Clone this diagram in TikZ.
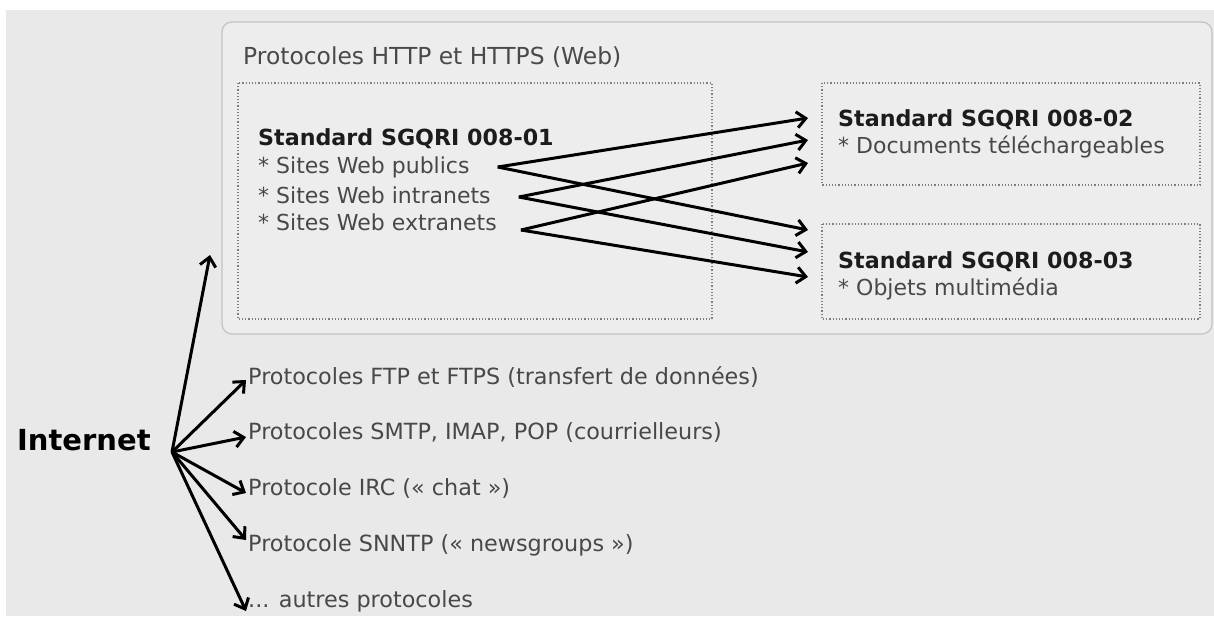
\documentclass[tikz,border=0pt]{standalone}
\usepackage{fontspec}
\setmainfont{DejaVu Sans}
\usetikzlibrary{arrows.meta}
\definecolor{fond}{RGB}{233,233,233}
\definecolor{cadrefond}{RGB}{237,237,237}
\definecolor{cadretrait}{RGB}{195,195,195}
\definecolor{pointille}{RGB}{125,125,125}
\definecolor{texte}{RGB}{72,72,72}
\definecolor{titre}{RGB}{28,28,28}

\tikzset{
    fleche/.style={line width=3pt, -{Straight Barb[length=9pt,width=16pt]}, black},
    ligne/.style={anchor=west, inner sep=2pt, text=texte, font=\fontsize{22}{27}\selectfont},
    protocole/.style={ligne, font=\fontsize{22.3}{27}\selectfont},
    entete/.style={anchor=west, inner sep=2pt, text=titre, font=\fontsize{22.2}{27}\selectfont\bfseries},
    cadre/.style={draw=pointille, dotted, line width=1.2pt}
}

\begin{document}
\begin{tikzpicture}[x=1pt, y=-1pt]
    \useasboundingbox (0,0) rectangle (1214,616);
    \path[fill=fond] (6,10) rectangle (1214,616);

    % Web
    \draw[fill=cadrefond, draw=cadretrait, line width=1.2pt, rounded corners=10pt] (222,22) rectangle (1212,334);
    \node[ligne, text=titre!80, font=\fontsize{23.4}{28}\selectfont] (web) at (241,57) {Protocoles HTTP et HTTPS (Web)};

    \draw[cadre] (238,83) rectangle (712,319);
    \draw[cadre] (822,83) rectangle (1200,185);
    \draw[cadre] (822,224) rectangle (1200,319);

    \node[entete] (s1) at (256,139) {Standard SGQRI 008-01};
    \node[ligne] (s1a) at (256,167) {* Sites Web publics};
    \node[ligne] (s1b) at (256,195) {* Sites Web intranets};
    \node[ligne] (s1c) at (256,222) {* Sites Web extranets};

    \node[entete] (s2) at (836,120) {Standard SGQRI 008-02};
    \node[ligne] (s2a) at (836,147) {* Documents téléchargeables};
    \node[entete] (s3) at (836,262) {Standard SGQRI 008-03};
    \node[ligne] (s3a) at (836,289) {* Objets multimédia};

    \coordinate (d2a) at (808,118);
    \coordinate (d2b) at (808,140);
    \coordinate (d2c) at (808,163);
    \coordinate (d3a) at (808,230);
    \coordinate (d3b) at (808,252);
    \coordinate (d3c) at (808,277);

    \draw[fleche] ([xshift=26pt]s1a.east) -- (d2a);
    \draw[fleche] ([xshift=26pt]s1a.east) -- (d3a);
    \draw[fleche] ([xshift=26pt,yshift=-2pt]s1b.east) -- (d2b);
    \draw[fleche] ([xshift=26pt,yshift=-2pt]s1b.east) -- (d3b);
    \draw[fleche] ([xshift=22pt,yshift=-8pt]s1c.east) -- (d2c);
    \draw[fleche] ([xshift=22pt,yshift=-8pt]s1c.east) -- (d3c);

    % Internet
    \node[anchor=west, inner sep=2pt, text=black, font=\fontsize{29}{33}\selectfont\bfseries] (inet) at (15,440) {Internet};
    \coordinate (depart) at (172,452);
    \coordinate (haut) at (210,255);

    \node[protocole] (ftp) at (246,377) {Protocoles FTP et FTPS (transfert de données)};
    \node[protocole] (smtp) at (246,432) {Protocoles SMTP, IMAP, POP (courrielleurs)};
    \node[protocole] (irc) at (246,488) {Protocole IRC («~chat~»)};
    \node[protocole] (nntp) at (246,545) {Protocole SNNTP («~newsgroups~»)};
    \node[protocole] (autres) at (246,601) {... autres protocoles};

    \draw[fleche] (depart) -- (haut);
    \draw[fleche] (depart) -- ([yshift=-3pt]ftp.west);
    \draw[fleche] (depart) -- ([yshift=-5pt]smtp.west);
    \draw[fleche] (depart) -- ([yshift=-5pt]irc.west);
    \draw[fleche] (depart) -- ([yshift=5pt]nntp.west);
    \draw[fleche] (depart) -- ([yshift=-10pt]autres.west);

\end{tikzpicture}
\end{document}
